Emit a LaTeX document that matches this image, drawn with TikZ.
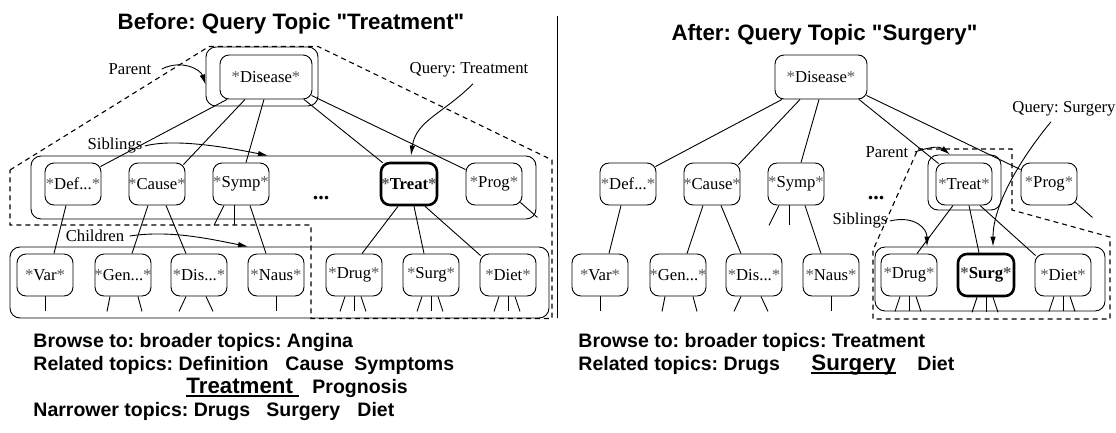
\documentclass[tikz,border=0pt]{standalone}
\usepackage{fontspec}
\setmainfont{Liberation Serif}
\newfontfamily\headfont{Liberation Sans}
\usetikzlibrary{calc,arrows.meta}
\frenchspacing

% gray asterisks around topic names
\newcommand\st{{\color{black!65}*}}
\newcommand\nodefont{\fontsize{16.7}{20}\selectfont}
\newcommand\capfont{\fontsize{19.5}{23}\selectfont\headfont\bfseries}
\newcommand\bigcapfont{\fontsize{22.3}{26}\selectfont\headfont\bfseries}
\newcommand\titlefont{\fontsize{22.3}{26}\selectfont\headfont\bfseries}

\tikzset{
  box/.style={draw, rounded corners=9pt, minimum width=56pt, minimum height=42pt,
              inner sep=0pt, font=\nodefont},
  hot/.style={line width=2.6pt, font=\nodefont\bfseries},
  grp/.style={draw, rounded corners=10pt, inner sep=0pt},
  fence/.style={dash pattern=on 5pt off 4pt, line width=1.1pt},
  note/.style={font=\nodefont, inner sep=1pt},
  arr/.style={-{Latex[length=10pt,width=5.5pt]}},
  captext/.style={font=\capfont, inner sep=0pt, anchor=base west},
  ttl/.style={font=\titlefont, inner sep=0pt, anchor=base},
  dots/.style={font=\fontsize{22}{24}\selectfont\bfseries, inner sep=0pt, anchor=base},
}

% topic tree shared by both panels: #1 name prefix, #2 style of Treat, #3 style of Surg
\newcommand\topictree[3]{%
  \node[box, minimum width=92pt, minimum height=44pt] (#1root) at (266,77) {\makebox[0pt]{\st Disease\st}};
  \node[box] (#1def)   at (73,184)  {\makebox[0pt]{\st Def...\st}};
  \node[box] (#1cause) at (157,184) {\makebox[0pt]{\st Cause\st}};
  \node[box] (#1symp)  at (241,184) {\makebox[0pt]{\st Symp\st}};
  \node[dots] (#1more) at (321,199) {...};
  \node[box,#2] (#1treat) at (409,184) {\makebox[0pt]{\st Treat\st}};
  \node[box] (#1prog)  at (494,184) {\makebox[0pt]{\st Prog\st}};
  \node[box] (#1var)   at (45,275)  {\makebox[0pt]{\st Var\st}};
  \node[box] (#1gen)   at (123,275) {\makebox[0pt]{\st Gen...\st}};
  \node[box] (#1dsc)   at (199,275) {\makebox[0pt]{\st Dis...\st}};
  \node[box] (#1naus)  at (276,275) {\makebox[0pt]{\st Naus\st}};
  \node[box] (#1drug)  at (354,275) {\makebox[0pt]{\st Drug\st}};
  \node[box,#3] (#1surg) at (431,275) {\makebox[0pt]{\st Surg\st}};
  \node[box] (#1diet)  at (508,275) {\makebox[0pt]{\st Diet\st}};
  % root to first level
  \draw ([xshift=-39pt]#1root.south) -- ([xshift=-1pt,yshift=-4pt]#1def.north east);
  \draw ([xshift=-21pt]#1root.south) -- ([xshift=-2pt,yshift=-2pt]#1cause.north east);
  \draw ([xshift=-2pt]#1root.south) -- ([xshift=5pt]#1symp.north);
  \draw ([xshift=38pt]#1root.south) -- ([xshift=3pt,yshift=-1pt]#1treat.north west);
  \draw ([xshift=-1pt,yshift=4pt]#1root.south east) -- ([yshift=-7pt]#1prog.north west);
  % first level to second level
  \draw ([xshift=-7pt]#1def.south) -- ([xshift=9pt]#1var.north);
  \draw ([xshift=-9pt]#1cause.south) -- ([xshift=9pt]#1gen.north);
  \draw ([xshift=9pt]#1cause.south) -- ([xshift=-13pt]#1dsc.north);
  \draw ([xshift=9pt]#1symp.south) -- ([xshift=-10pt]#1naus.north);
  \draw ([xshift=-17pt]#1symp.south) -- ++(-10,20);
  \draw ([xshift=-7pt]#1symp.south) -- ++(0,20);
  \draw ([xshift=-11pt]#1treat.south) -- ([xshift=8pt]#1drug.north);
  \draw ([xshift=5pt]#1treat.south) -- ([xshift=-7pt]#1surg.north);
  \draw ([xshift=16pt]#1treat.south) -- ([xshift=1pt,yshift=-2pt]#1diet.north west);
  \draw ([xshift=-2pt,yshift=3pt]#1prog.south east) -- ++(17,15);
  % stubs below the second level
  \draw (#1var.south) -- ++(0,15);
  \draw ([xshift=-13pt]#1gen.south) -- ++(-3,15);
  \draw ([xshift=15pt]#1gen.south) -- ++(4,15);
  \draw ([xshift=-13pt]#1dsc.south) -- ++(-7,15);
  \draw ([xshift=7pt]#1dsc.south) -- ++(7,15);
  \draw (#1naus.south) -- ++(0,15);
  \foreach \n in {drug,surg,diet}{%
    \draw ([xshift=-9pt]#1\n.south) -- ++(-5,15);
    \draw (#1\n.south) -- ++(0,15);
    \draw ([xshift=7pt]#1\n.south) -- ++(5,15);
  }%
}

\begin{document}
\begin{tikzpicture}[x=1pt, y=-1pt, line width=0.9pt]
\useasboundingbox (0,0) rectangle (1116,432);

% ---------------- before ----------------
\node[ttl] (t1) at (291,29) {Before: Query Topic "Treatment"};
\topictree{L}{hot}{}
\node[grp, minimum width=112pt, minimum height=59pt] (Lrootbox) at (262,76.5) {};
\node[grp, minimum width=505pt, minimum height=63pt] (Lsib) at (283.5,187.5) {};
\node[grp, minimum width=539pt, minimum height=71pt] (Lkids) at (279.5,282.5) {};
\draw[fence] (10,170) -- (209,46.5) -- (318,46.5) -- (552,160) -- (552,318.5)
  -- (311,318.5) -- (311,225) -- (10,225) -- cycle;

\node[note] (Lpar) at (130,69) {Parent};
\draw[arr] ([xshift=9pt]Lpar.east) .. controls +(20,-10) and +(-5,-15) .. ([yshift=-8pt]Lrootbox.west);
\node[note] (Lq) at (469,70) {Query: Treatment};
\draw[arr] ([xshift=4pt,yshift=-5pt]Lq.south) .. controls +(-30,30) and +(5,-35) .. ([xshift=127.5pt]Lsib.north);
\node[note] (Lsl) at (115,146) {Siblings};
\draw[arr] ([xshift=1pt]Lsl.east) .. controls +(30,-8) and +(-40,-8) .. ([xshift=-15.5pt]Lsib.north);
\node[note] (Lch) at (95,236) {Children};
\draw[arr] ([xshift=4pt]Lch.east) .. controls +(40,-6) and +(-40,-8) .. ([xshift=-31.5pt]Lkids.north);

\node[captext] (b1) at (33,347) {Browse to: broader topics: Angina};
\node[captext] (b2) at (33,370) {Related topics: Definition};
\node[captext] (b3) at (285,370) {Cause};
\node[captext] (b4) at (354,370) {Symptoms};
\node[captext, font=\bigcapfont] (b5) at (186,393) {Treatment};
\draw[line width=1.6pt] ([yshift=-3pt]b5.base west) -- ([xshift=6pt,yshift=-3pt]b5.base east);
\node[captext] (b6) at (312,393) {Prognosis};
\node[captext] (b7) at (33,416) {Narrower topics: Drugs};
\node[captext] (b8) at (266,416) {Surgery};
\node[captext] (b9) at (357,416) {Diet};

% divider between the two panels
\coordinate (dtop) at (557,16);
\coordinate (dbot) at (557,318);
\draw[line width=1pt] (dtop) -- (dbot);

% ---------------- after ----------------
\node[ttl] (t2) at (824.5,40) {After: Query Topic "Surgery"};
\begin{scope}[xshift=555pt]
  \topictree{R}{}{hot}
\end{scope}
\node[grp, minimum width=73pt, minimum height=55pt] (Rtreatbox) at (964.5,182.5) {};
\node[grp, minimum width=230pt, minimum height=64pt] (Rkids) at (990,279) {};
\draw[fence] (918,149) -- (1012,149) -- (1012,210) -- (1110,237) -- (1110,319)
  -- (873,319) -- (873,250) -- cycle;

\node[note] (Rpar) at (887,152) {Parent};
\draw[arr] ([xshift=5pt]Rpar.east) .. controls +(18,-6) and +(-10,-8) .. ([xshift=-14.5pt]Rtreatbox.north);
\node[note] (Rsl) at (860,221) {Siblings};
\draw[arr] ([xshift=1pt]Rsl.east) .. controls +(25,-6) and +(0,-18) .. ([xshift=-63pt]Rkids.north);
\node[note] (Rq) at (1064,109) {Query: Surgery};
\draw[arr] ([xshift=-13pt,yshift=-4pt]Rq.south) .. controls +(-25,30) and +(0,-45) .. ([xshift=3pt]Rkids.north);

\node[captext] (c1) at (578,347) {Browse to: broader topics: Treatment};
\node[captext] (c2) at (578,370) {Related topics: Drugs};
\node[captext, font=\bigcapfont] (c3) at (811,370) {Surgery};
\draw[line width=1.6pt] ([yshift=-3pt]c3.base west) -- ([yshift=-3pt]c3.base east);
\node[captext] (c4) at (917,370) {Diet};
\end{tikzpicture}
\end{document}
